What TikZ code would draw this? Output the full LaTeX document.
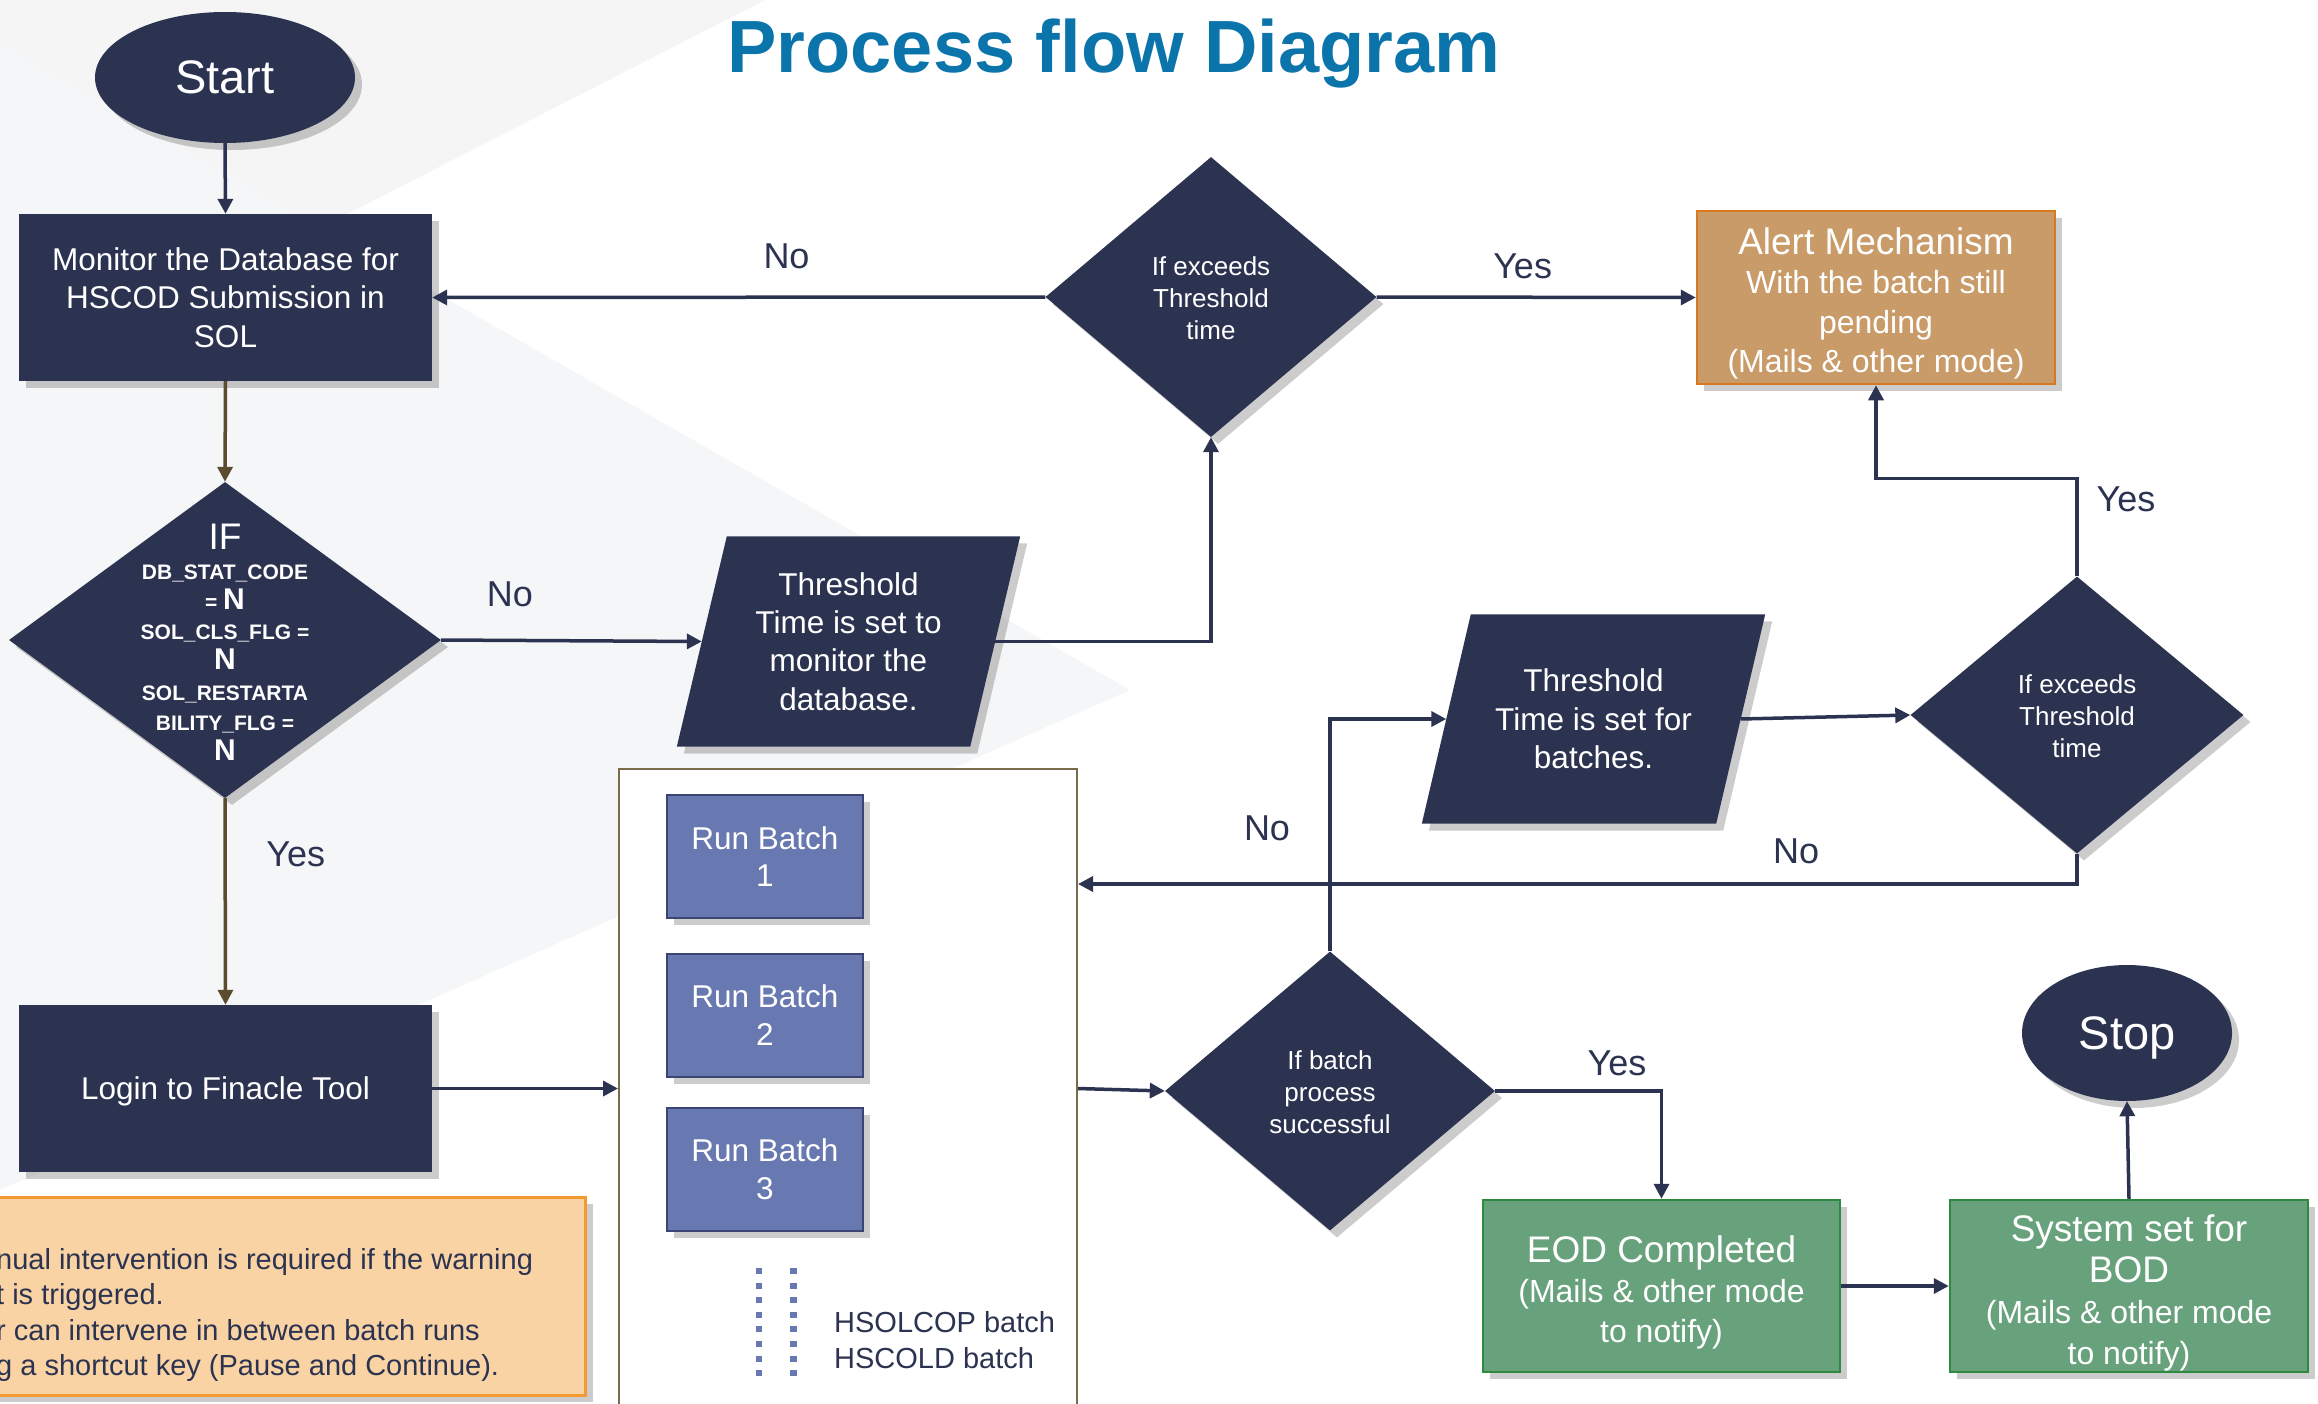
\documentclass[tikz,border=0pt]{standalone}
\usepackage{fontspec}
\setmainfont{Liberation Sans}
\usetikzlibrary{shapes.geometric,arrows.meta,shadows,backgrounds,calc}
\definecolor{navy}{HTML}{2C3351}
\definecolor{batchfill}{HTML}{6878B0}
\definecolor{batchline}{HTML}{3B4472}
\definecolor{alertfill}{HTML}{C99B68}
\definecolor{alertline}{HTML}{D9781C}
\definecolor{greenfill}{HTML}{68A27D}
\definecolor{greenline}{HTML}{2E8A40}
\definecolor{notefill}{HTML}{F9D3A4}
\definecolor{noteline}{HTML}{F59A33}
\definecolor{contline}{HTML}{7B6B4B}
\definecolor{brownline}{HTML}{5B4B2F}
\definecolor{titleblue}{HTML}{0B74AA}
\definecolor{bggreyA}{HTML}{F5F5F6}
\definecolor{bggreyB}{HTML}{F5F6F7}
\begin{document}
\begin{tikzpicture}[x=1pt,y=-1pt,
  softshadow/.style={drop shadow={shadow xshift=7pt,shadow yshift=-7pt,fill=black,opacity=0.2}},
  navybox/.style={rectangle,fill=navy,text=white,align=center,inner sep=0pt,
    font=\fontsize{31.5}{38.3}\selectfont,softshadow},
  dia/.style={diamond,fill=navy,inner sep=0pt,softshadow},
  diatext/.style={text=white,align=center,inner sep=0pt,font=\fontsize{26}{32}\selectfont},
  paratext/.style={text=white,align=center,inner sep=0pt,font=\fontsize{31.5}{38.3}\selectfont},
  batchbox/.style={rectangle,fill=batchfill,draw=batchline,line width=2pt,text=white,
    minimum width=196pt,minimum height=123pt,align=center,inner sep=0pt,
    font=\fontsize{31.5}{37.5}\selectfont,softshadow},
  greenbox/.style={rectangle,fill=greenfill,draw=greenline,line width=2.5pt,
    minimum width=357pt,minimum height=172pt,inner sep=0pt,softshadow},
  boxtext/.style={text=white,align=center,inner sep=0pt},
  lbl/.style={text=navy,inner sep=0pt,font=\fontsize{36}{40}\selectfont},
  conn/.style={draw=navy,line width=3.5pt,-{Triangle[length=15pt,width=15pt]}},
  bconn/.style={draw=brownline,line width=3.5pt,-{Triangle[length=15pt,width=15pt]}}
]
\useasboundingbox (0,0) rectangle (2318,1403);
\begin{scope}[on background layer]
  \fill[bggreyA] (0,0) -- (765,0) -- (0,392) -- cycle;
  \fill[bggreyB] (0,43) -- (1130,690) -- (0,1190) -- cycle;
\end{scope}

% title
\node[anchor=base,text=titleblue,inner sep=0pt,font=\fontsize{74}{80}\selectfont\bfseries] (title) at (1114,72.3) {Process flow Diagram};

% start / stop
\node[ellipse,fill=navy,minimum width=260pt,minimum height=131pt,inner sep=0pt,text=white,
  font=\fontsize{47}{50}\selectfont,softshadow] (start) at (225,77.5) {Start};
\node[ellipse,fill=navy,minimum width=210pt,minimum height=136pt,inner sep=0pt,text=white,
  text depth=0pt,font=\fontsize{47}{50}\selectfont,softshadow] (stop) at (2127,1033) {Stop};

% main boxes
\node[navybox,minimum width=413pt,minimum height=167pt] (monitor) at (225.5,297.5)
  {Monitor the Database for\\HSCOD Submission in\\SOL};
\node[navybox,minimum width=413pt,minimum height=167pt,text depth=0pt] (login) at (225.5,1088.5)
  {Login to Finacle Tool};

% diamonds
\node[dia,minimum width=432pt,minimum height=316pt] (d1) at (225,640) {};
\node[text=white,align=center,inner sep=0pt,font=\fontsize{21}{30.2}\selectfont\bfseries] (d1t) at (225,642)
  {{\mdseries\fontsize{37}{30.2}\selectfont IF}\\DB\_STAT\_CODE\\= {\fontsize{30}{30.2}\selectfont N}\\SOL\_CLS\_FLG =\\{\fontsize{30}{30.2}\selectfont N}\\SOL\_RESTARTA\\BILITY\_FLG =\\{\fontsize{30}{30.2}\selectfont N}};
\node[dia,minimum width=331pt,minimum height=280pt] (d2) at (1211,297) {};
\node[diatext] (d2t) at (1211,298) {If exceeds\\Threshold\\time};
\node[dia,minimum width=333pt,minimum height=277pt] (d4) at (2077,715) {};
\node[diatext] (d4t) at (2077,716) {If exceeds\\Threshold\\time};
\node[dia,minimum width=330pt,minimum height=279pt] (d3) at (1330,1091) {};
\node[diatext] (d3t) at (1330,1092) {If batch\\process\\successful};

% parallelograms
\node[paratext,minimum width=293pt,minimum height=210pt] (p1) at (848.5,641.5)
  {Threshold\\Time is set to\\monitor the\\database.};
\node[paratext,minimum width=294pt,minimum height=209pt] (p2) at (1593.5,719)
  {Threshold\\Time is set for\\batches.};
\begin{scope}[on background layer]
  \fill[navy,softshadow] ([xshift=25pt]p1.north west) -- ([xshift=25pt]p1.north east)
    -- ([xshift=-25pt]p1.south east) -- ([xshift=-25pt]p1.south west) -- cycle;
  \fill[navy,softshadow] ([xshift=24.5pt]p2.north west) -- ([xshift=24.5pt]p2.north east)
    -- ([xshift=-24.5pt]p2.south east) -- ([xshift=-24.5pt]p2.south west) -- cycle;
\end{scope}

% alert
\node[rectangle,fill=alertfill,draw=alertline,line width=2.5pt,
  minimum width=358pt,minimum height=173pt,inner sep=0pt,softshadow] (alert) at (1876,297.5) {};
\node[boxtext,font=\fontsize{32}{39.5}\selectfont] (alertt) at (1876,303.5)
  {{\fontsize{37}{39.5}\selectfont Alert Mechanism}\\With the batch still\\pending\\(Mails \& other mode)};

% container of batches
\node[rectangle,draw=contline,line width=2pt,fill=white,minimum width=458pt,minimum height=700pt,inner sep=0pt] (cont) at (848,1119) {};
\node[batchbox] (b1) at (765,856.5) {Run Batch\\1};
\node[batchbox] (b2) at (765,1015) {Run Batch\\2};
\node[batchbox] (b3) at (765,1169) {Run Batch\\3};
\draw[batchfill,line width=6.5pt,dash pattern=on 6pt off 8.6pt] (758.8,1268) -- (758.8,1380);
\draw[batchfill,line width=6.5pt,dash pattern=on 6pt off 8.6pt] (793.3,1268) -- (793.3,1380);
\node[anchor=west,text=navy,align=left,inner sep=0pt,font=\fontsize{29}{35.4}\selectfont] (hsol) at (834,1340)
  {HSOLCOP batch\\HSCOLD batch};

% green boxes
\node[greenbox] (eod) at (1661.5,1286) {};
\node[boxtext,font=\fontsize{32}{40}\selectfont] (eodt) at (1661.5,1292)
  {{\fontsize{37}{40}\selectfont EOD Completed}\\(Mails \& other mode\\to notify)};
\node[greenbox,minimum width=358pt] (bod) at (2129,1286) {};
\node[boxtext,font=\fontsize{32}{41}\selectfont] (bodt) at (2129,1293)
  {{\fontsize{37}{41}\selectfont System set for}\\{\fontsize{37}{41}\selectfont BOD}\\(Mails \& other mode\\to notify)};

% note box
\node[rectangle,fill=notefill,draw=noteline,line width=3pt,minimum width=615.5pt,minimum height=198pt,inner sep=0pt,softshadow] (note) at (277.75,1296) {};
\node[anchor=west,text=navy,align=left,inner sep=0pt,font=\fontsize{29}{35.5}\selectfont] (notetext) at (-4,1315)
  {nual intervention is required if the warning\\t is triggered.\\r can intervene in between batch runs\\g a shortcut key (Pause and Continue).};

% connectors
\draw[conn] (start.south) -- (monitor.north);
\draw[bconn] (monitor.south) -- (d1.north);
\draw[bconn] (d1.south) -- (login.north);
\draw[conn] (d1.east) -- (p1.west);
\draw[conn] (p1.east) -| (d2.south);
\draw[conn] (d2.west) -- (monitor.east);
\draw[conn] (d2.east) -- (alert.west);
\draw[conn] (d4.north) -- ++(0,-98) -| (alert.south);
\draw[conn] (p2.east) -- (d4.west);
\draw[conn] (d4.south) |- (cont.east |- 0,884);
\draw[conn] (d3.north) |- (p2.west);
\draw[conn] (login.east) -- (cont.west |- login.east);
\draw[conn] (cont.east |- login.east) -- (d3.west);
\draw[conn] (d3.east) -| (eod.north);
\draw[conn] (eod.east) -- (bod.west);
\draw[conn] (bod.north) -- (stop.south);

% labels
\node[lbl] (l1) at (786.5,256) {No};
\node[lbl] (l2) at (1522.6,266) {Yes};
\node[lbl] (l3) at (510,594) {No};
\node[lbl] (l4) at (295.7,854.5) {Yes};
\node[lbl] (l5) at (2126,499.7) {Yes};
\node[lbl] (l6) at (1267,828) {No};
\node[lbl] (l7) at (1796,851.5) {No};
\node[lbl] (l8) at (1617,1063) {Yes};
\end{tikzpicture}
\end{document}
